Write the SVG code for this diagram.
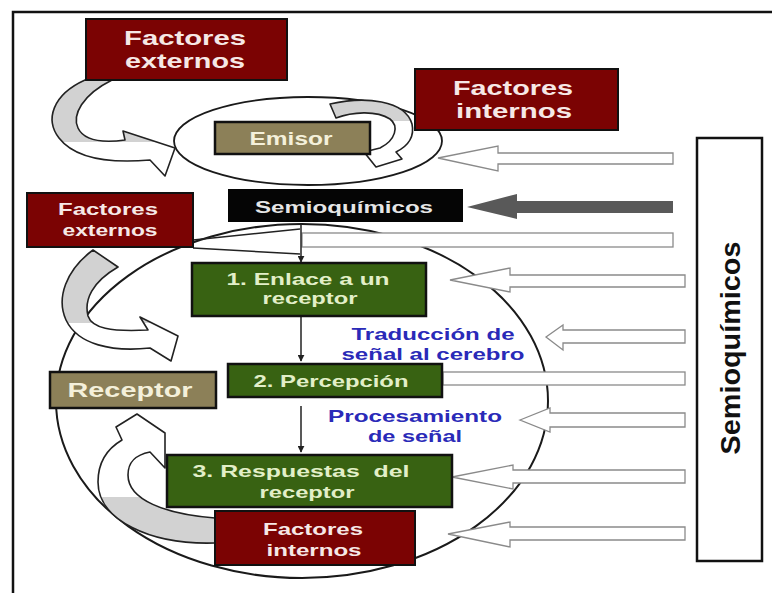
<svg xmlns="http://www.w3.org/2000/svg" width="772" height="593" viewBox="0 0 772 593">
<defs>
<style>
.red{fill:#7b0303;stroke:#111;stroke-width:2}
.grn{fill:#386212;stroke:#111;stroke-width:2.5}
.tan{fill:#8c8058;stroke:#111;stroke-width:2.5}
.t{font-family:"Liberation Sans",Arial,sans-serif;font-weight:bold;text-anchor:middle}
.tr{fill:#f6e8e6}
.tg{fill:#e2efc8}
.tt{fill:#f4f0da}
.tb{fill:#2a2ab8}
.hol{fill:#fff;stroke:#8a8a8a;stroke-width:1.3}
.crv{stroke:#222;stroke-width:1.6;stroke-linejoin:round}
.ln{fill:none;stroke:#222;stroke-width:1.5}
</style>
<marker id="ah" viewBox="0 0 10 10" refX="9" refY="5" markerWidth="7" markerHeight="7" orient="auto" markerUnits="userSpaceOnUse">
<path d="M0,0 L10,5 L0,10 Z" fill="#222"/>
</marker>
<linearGradient id="g1" gradientUnits="userSpaceOnUse" x1="0" y1="138" x2="0" y2="146">
<stop offset="0" stop-color="#d2d2d2"/><stop offset="0.5" stop-color="#d2d2d2"/><stop offset="0.5" stop-color="#fff"/><stop offset="1" stop-color="#fff"/>
</linearGradient>
<linearGradient id="g2" gradientUnits="userSpaceOnUse" x1="0" y1="118" x2="0" y2="124">
<stop offset="0" stop-color="#d2d2d2"/><stop offset="0.5" stop-color="#d2d2d2"/><stop offset="0.5" stop-color="#fff"/><stop offset="1" stop-color="#fff"/>
</linearGradient>
<linearGradient id="g3" gradientUnits="userSpaceOnUse" x1="0" y1="320" x2="0" y2="326">
<stop offset="0" stop-color="#d2d2d2"/><stop offset="0.5" stop-color="#d2d2d2"/><stop offset="0.5" stop-color="#fff"/><stop offset="1" stop-color="#fff"/>
</linearGradient>
<linearGradient id="g4" gradientUnits="userSpaceOnUse" x1="0" y1="494" x2="0" y2="500">
<stop offset="0" stop-color="#fff"/><stop offset="0.5" stop-color="#fff"/><stop offset="0.5" stop-color="#d2d2d2"/><stop offset="1" stop-color="#d2d2d2"/>
</linearGradient>
</defs>
<rect width="772" height="593" fill="#fff"/>
<path d="M13,593 V12 H772" fill="none" stroke="#111" stroke-width="2.5"/>

<g id="ellipses">
<ellipse cx="308" cy="141" rx="134" ry="44" fill="none" stroke="#1a1a1a" stroke-width="1.8"/>
<ellipse cx="302" cy="401" rx="246" ry="177" fill="none" stroke="#1a1a1a" stroke-width="2"/>
</g>

<g id="connectors">
<polygon class="hol" points="438,158 498,146 498,153 673,153 673,164 498,164 498,171"/>
<polygon points="467,207 517,194 517,201 673,201 673,213 517,213 517,219" fill="#595959"/>
<rect class="hol" x="302" y="233" width="371" height="14"/>
<polygon class="hol" points="450,280 510,268 510,275 685,275 685,287 510,287 510,292"/>
<polygon class="hol" points="546,337 563,325 563,330 685,330 685,343 563,343 563,350"/>
<rect class="hol" x="443" y="372" width="242" height="13"/>
<polygon class="hol" points="520,420 550,408 550,413 685,413 685,427 550,427 550,432"/>
<polygon class="hol" points="452,477 513,465 513,470 685,470 685,483 513,483 513,489"/>
<polygon class="hol" points="448,534 510,522 510,527 685,527 685,540 510,540 510,547"/>
<path class="ln" d="M193,240 L300,229"/>
<path class="ln" d="M193,248 L300,254"/>
<path class="ln" d="M301,224 V262" marker-end="url(#ah)"/>
<path class="ln" d="M301,317 V361" marker-end="url(#ah)"/>
<path class="ln" d="M301,406 V452" marker-end="url(#ah)"/>
<path class="crv" stroke="#222" fill="url(#g1)" d="M112,80 C82,95 72,115 78,128 C84,141 102,143 125,140 L123,131 L175,148 L165,176 L150,160 C115,163 76,160 59,138 C45,120 52,95 85,80 Z"/>
<path class="crv" stroke="#222" fill="url(#g2)" d="M330,104 C365,96 405,100 412,124 C415,138 406,147 396,152 L402,159 L376,167 L364,152 L380,148 C396,140 399,126 390,119 C376,110 352,112 336,118 Z"/>
<path class="crv" stroke="#222" fill="url(#g3)" d="M118,267 C92,282 84,300 88,316 C92,328 110,332 148,330 L140,317 L178,336 L171,361 L150,348 C112,352 78,345 66,320 C56,298 66,270 93,250 Z"/>
<path class="crv" stroke="#222" fill="url(#g4)" d="M215,518 C165,514 128,500 128,475 C128,462 135,455 150,452 L165,468 L165,433 L137,414 L116,427 L122,440 C105,450 98,465 98,482 C98,520 150,545,215,543 Z"/>
</g>

<g id="factores-externos-1">
<rect class="red" x="86" y="19" width="201" height="61"/>
<text class="t tr" x="185" y="45" font-size="21" textLength="122" lengthAdjust="spacingAndGlyphs">Factores</text>
<text class="t tr" x="185" y="68" font-size="21" textLength="120" lengthAdjust="spacingAndGlyphs">externos</text>
</g>

<g id="factores-internos-1">
<rect class="red" x="415" y="69" width="203" height="61"/>
<text class="t tr" x="513" y="95" font-size="21" textLength="120" lengthAdjust="spacingAndGlyphs">Factores</text>
<text class="t tr" x="514" y="118" font-size="21" textLength="116" lengthAdjust="spacingAndGlyphs">internos</text>
</g>

<g id="emisor">
<rect class="tan" x="215" y="122" width="155" height="32"/>
<text class="t tt" x="291" y="145" font-size="17.5" textLength="83" lengthAdjust="spacingAndGlyphs">Emisor</text>
</g>

<g id="semioquimicos">
<rect x="228" y="189" width="235" height="33" fill="#050505"/>
<text class="t" x="344" y="213" font-size="17" fill="#e6e6e6" textLength="178" lengthAdjust="spacingAndGlyphs">Semioquímicos</text>
</g>

<g id="factores-externos-2">
<rect class="red" x="27" y="193" width="166" height="54"/>
<text class="t tr" x="108" y="215" font-size="17" textLength="100" lengthAdjust="spacingAndGlyphs">Factores</text>
<text class="t tr" x="110" y="236" font-size="17" textLength="95" lengthAdjust="spacingAndGlyphs">externos</text>
</g>

<g id="enlace">
<rect class="grn" x="192" y="263" width="234" height="53"/>
<text class="t tg" x="308" y="285" font-size="17" textLength="163" lengthAdjust="spacingAndGlyphs">1. Enlace a un</text>
<text class="t tg" x="310" y="304" font-size="17" textLength="95" lengthAdjust="spacingAndGlyphs">receptor</text>
</g>

<g id="traduccion">
<text class="t tb" x="433" y="340" font-size="17" textLength="163" lengthAdjust="spacingAndGlyphs">Traducción de</text>
<text class="t tb" x="433" y="360" font-size="17" textLength="183" lengthAdjust="spacingAndGlyphs">señal al cerebro</text>
</g>

<g id="receptor">
<rect class="tan" x="50" y="372" width="166" height="36"/>
<text class="t tt" x="130" y="397" font-size="21" textLength="125" lengthAdjust="spacingAndGlyphs">Receptor</text>
</g>

<g id="percepcion">
<rect class="grn" x="228" y="364" width="214" height="33"/>
<text class="t tg" x="331" y="387" font-size="17" textLength="155" lengthAdjust="spacingAndGlyphs">2. Percepción</text>
</g>

<g id="procesamiento">
<text class="t tb" x="415" y="422" font-size="17" textLength="174" lengthAdjust="spacingAndGlyphs">Procesamiento</text>
<text class="t tb" x="415" y="442" font-size="17" textLength="94" lengthAdjust="spacingAndGlyphs">de señal</text>
</g>

<g id="respuestas">
<rect class="grn" x="167" y="455" width="285" height="52"/>
<text class="t tg" x="301" y="477" font-size="16.5" textLength="217" lengthAdjust="spacingAndGlyphs" xml:space="preserve">3. Respuestas  del</text>
<text class="t tg" x="307" y="498" font-size="16.5" textLength="95" lengthAdjust="spacingAndGlyphs">receptor</text>
</g>

<g id="factores-internos-2">
<rect class="red" x="215" y="511" width="200" height="54"/>
<text class="t tr" x="313" y="535" font-size="17" textLength="100" lengthAdjust="spacingAndGlyphs">Factores</text>
<text class="t tr" x="314" y="556" font-size="17" textLength="95" lengthAdjust="spacingAndGlyphs">internos</text>
</g>

<g id="semioquimicos-lateral">
<rect x="697" y="138" width="65" height="423" fill="#fff" stroke="#111" stroke-width="2.5"/>
<text class="t" x="0" y="0" font-size="28" fill="#111" textLength="213" lengthAdjust="spacingAndGlyphs" transform="translate(740,348) rotate(-90)">Semioquímicos</text>
</g>
</svg>
